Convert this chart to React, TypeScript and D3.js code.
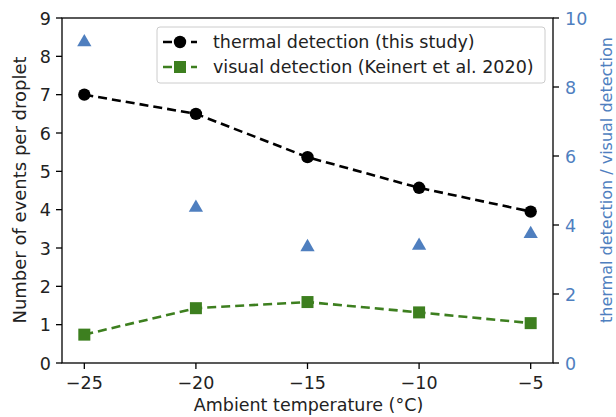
import React from "react";
import * as d3 from "d3";

const temps = [-25, -20, -15, -10, -5];
const thermal = [7.0, 6.5, 5.37, 4.57, 3.95];
const visual = [0.74, 1.43, 1.59, 1.32, 1.04];
const ratio = [9.33, 4.53, 3.39, 3.43, 3.77];
const xTicks = [-25, -20, -15, -10, -5];
const yTicks = [0, 1, 2, 3, 4, 5, 6, 7, 8, 9];
const y2Ticks = [0, 2, 4, 6, 8, 10];
const legendLabels = ["thermal detection (this study)", "visual detection (Keinert et al. 2020)"];

const W = 616, H = 417;
const L = 62, R = 553, T = 18, B = 363;
const GREEN = "#3d7f1f";
const BLUE = "#4f7fbf";
const FONT = "DejaVu Sans";

export default function App() {
  const x = d3.scaleLinear().domain([-26, -4]).range([L, R]);
  const y = d3.scaleLinear().domain([0, 9]).range([B, T]);
  const y2 = d3.scaleLinear().domain([0, 10]).range([B, T]);
  const line = (vals: number[]) =>
    d3.line<number>().x((_, i) => x(temps[i])).y((d) => y(d))(vals) || "";
  const tri = d3.symbol().type(d3.symbolTriangle).size(88)() || "";
  const fs = 17.5;
  const dash = "9,5";
  const lw = 2.6;
  return (
    <svg width={W} height={H} style={{ position: "absolute", left: 0, top: 0 }} fontFamily={FONT}>
      <rect x={0} y={0} width={W} height={H} fill="#fff" />
      {ratio.map((r, i) => (
        <path key={"t" + i} d={tri} transform={`translate(${x(temps[i])},${y2(r) + 1})`} fill={BLUE} />
      ))}
      <path d={line(thermal)} fill="none" stroke="#000" strokeWidth={lw} strokeDasharray={dash} />
      {thermal.map((v, i) => (
        <circle key={"c" + i} cx={x(temps[i])} cy={y(v)} r={6.2} fill="#000" />
      ))}
      <path d={line(visual)} fill="none" stroke={GREEN} strokeWidth={lw} strokeDasharray={dash} />
      {visual.map((v, i) => (
        <rect key={"s" + i} x={x(temps[i]) - 6} y={y(v) - 6} width={12} height={12} fill={GREEN} />
      ))}
      <rect x={L} y={T} width={R - L} height={B - T} fill="none" stroke="#000" strokeWidth={1.3} />
      {xTicks.map((t) => (
        <g key={"x" + t}>
          <line x1={x(t)} x2={x(t)} y1={B} y2={B + 6} stroke="#000" strokeWidth={1.3} />
          <text x={x(t)} y={B + 26} textAnchor="middle" fontSize={fs} fill="#222">
            {"\u2212" + Math.abs(t)}
          </text>
        </g>
      ))}
      {yTicks.map((t) => (
        <g key={"y" + t}>
          <line x1={L - 6} x2={L} y1={y(t)} y2={y(t)} stroke="#000" strokeWidth={1.3} />
          <text x={L - 11} y={y(t) + 6.5} textAnchor="end" fontSize={fs} fill="#222">
            {t}
          </text>
        </g>
      ))}
      {y2Ticks.map((t) => (
        <g key={"y2" + t}>
          <line x1={R} x2={R + 6} y1={y2(t)} y2={y2(t)} stroke="#000" strokeWidth={1.3} />
          <text x={R + 12} y={y2(t) + 6.5} textAnchor="start" fontSize={fs} fill={BLUE}>
            {t}
          </text>
        </g>
      ))}
      <text x={(L + R) / 2 + 1} y={411} textAnchor="middle" fontSize={fs} fill="#222">
        Ambient temperature (°C)
      </text>
      <text transform={`translate(26,190) rotate(-90)`} textAnchor="middle" fontSize={18} fill="#222">
        Number of events per droplet
      </text>
      <text transform={`translate(612,180) rotate(-90)`} textAnchor="middle" fontSize={16} fill={BLUE}>
        thermal detection / visual detection
      </text>
      <g>
        <rect x={157} y={27} width={388} height={56} rx={3} fill="#fff" fillOpacity={0.85} stroke="#ccc" strokeWidth={1} />
        <line x1={163} x2={197} y1={42} y2={42} stroke="#000" strokeWidth={lw} strokeDasharray={dash} />
        <circle cx={180} cy={42} r={6.2} fill="#000" />
        <text x={213} y={48} fontSize={fs} fill="#222">{legendLabels[0]}</text>
        <line x1={163} x2={197} y1={67} y2={67} stroke={GREEN} strokeWidth={lw} strokeDasharray={dash} />
        <rect x={174} y={61} width={12} height={12} fill={GREEN} />
        <text x={213} y={73} fontSize={fs} fill="#222">{legendLabels[1]}</text>
      </g>
    </svg>
  );
}
